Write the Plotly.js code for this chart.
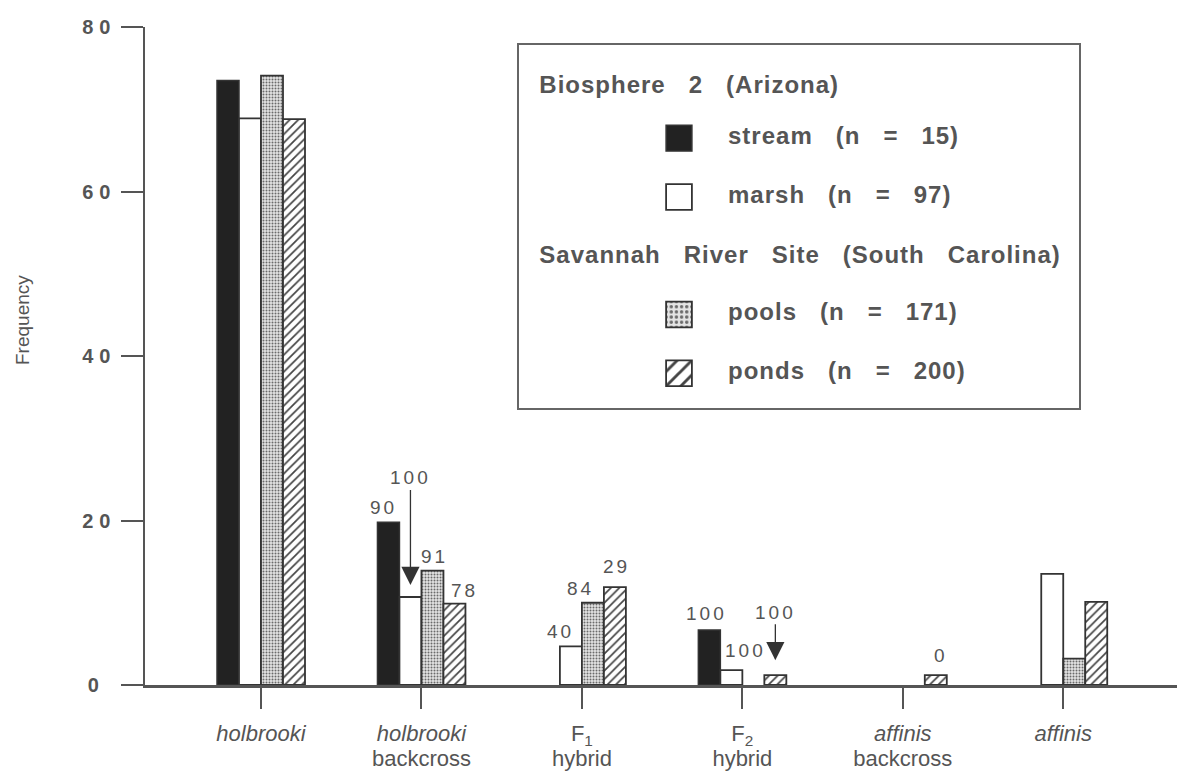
<!DOCTYPE html>
<html>
<head>
<meta charset="utf-8">
<script src="https://cdn.plot.ly/plotly-3.0.1.min.js"></script>
<style>html,body{margin:0;padding:0;background:#fff;}</style>
</head>
<body>
<div id="chart" style="width:1177px;height:774px;"></div>
<script>
// ---- data ----
const categories = ["holbrooki", "holbrooki backcross", "F1 hybrid", "F2 hybrid", "affinis backcross", "affinis"];
const categoryLabels = ["<i>holbrooki</i>", "<i>holbrooki</i><br>backcross", "F<sub>1</sub><br>hybrid", "F<sub>2</sub><br>hybrid", "<i>affinis</i><br>backcross", "<i>affinis</i>"];
const streamValues = [73.5, 19.8, null, 6.7, null, null];
const marshValues  = [68.9, 10.7, 4.7, 1.8, null, 13.5];
const poolsValues  = [74.1, 13.9, 10.0, null, null, 3.2];
const pondsValues  = [68.8, 9.9, 11.9, 1.2, 1.2, 10.1];
const streamLabels = ["", "90", "", "100", "", ""];
const marshLabels  = ["", "100", "40", "100", "", ""];
const poolsLabels  = ["", "91", "84", "", "", ""];
const pondsLabels  = ["", "78", "29", "100", "0", ""];
const marshArrows  = [false, true, false, false, false, false];
const pondsArrows  = [false, false, false, true, false, false];
const seriesNames = ["stream", "marsh", "pools", "ponds"];
const seriesN = [15, 97, 171, 200];
const groupTitles = ["Biosphere 2 (Arizona)", "Savannah River Site (South Carolina)"];
const yTickVals = [0, 20, 40, 60, 80];
const yTickText = ["0", "20", "40", "60", "80"];
const yTitle = "Frequency";

// ---- styling ----
const INK = "#555";
const OUT = "#333";
const BIG = 'font-size:24px;font-weight:bold;letter-spacing:1px';
const SP = "\u00a0\u00a0\u00a0";
function wide(t) { return t.split(" ").join(SP); }
function legendName(t, extra) {
  return "\u00a0<br><span style=\"" + BIG + (extra || "") + "\">" + wide(t) + "</span><br>\u00a0";
}
function entryName(i) {
  return legendName(seriesNames[i] + " (n = " + seriesN[i] + ")");
}
function titleName(i) {
  return legendName("\u00a0\u00a0" + groupTitles[i] + (i === 1 ? "\u00a0" : ""),
    i === 0 ? ";baseline-shift:-8px" : ";baseline-shift:-2px");
}
// category labels: slightly larger glyphs on a tighter line pitch, as in the original
function catLabel(t) {
  return t.split("<br>").map(l => '<span style="font-size:22px">' + l + '</span>').join("<br>");
}

const common = {type: "bar", x: categories, hoverinfo: "skip"};
const traces = [
  Object.assign({}, common, {
    name: entryName(0), y: streamValues, legendgroup: "b2",
    legendgrouptitle: {text: titleName(0)},
    marker: {color: "#222", line: {color: OUT, width: 1.5}}
  }),
  Object.assign({}, common, {
    name: entryName(1), y: marshValues, legendgroup: "b2",
    marker: {color: "#fff", line: {color: OUT, width: 1.8}}
  }),
  Object.assign({}, common, {
    name: entryName(2), y: poolsValues, legendgroup: "srs",
    legendgrouptitle: {text: titleName(1)},
    marker: {color: "#d9d9d9", line: {color: OUT, width: 1.8},
      pattern: {shape: ".", fgcolor: "#6a6a6a", bgcolor: "#e4e4e4", size: 3, solidity: 0.35}}
  }),
  Object.assign({}, common, {
    name: entryName(3), y: pondsValues, legendgroup: "srs",
    marker: {color: "#fff", line: {color: OUT, width: 1.8},
      pattern: {shape: "/", fgcolor: "#444", bgcolor: "#fff", size: 6, solidity: 0.28}}
  })
];

// value labels
const BAR_PX = 22;
const seriesOffsets = [-1.5 * BAR_PX, -0.5 * BAR_PX, 0.5 * BAR_PX, 1.5 * BAR_PX];
const labelSets = [streamLabels, marshLabels, poolsLabels, pondsLabels];
const valueSets = [streamValues, marshValues, poolsValues, pondsValues];
const arrowSets = [null, marshArrows, null, pondsArrows];
// hand-placed nudges (px) to avoid overlaps, as in the original figure
const nudge = {"0-1": [-5, 2], "0-3": [-3, 4], "1-2": [-10, 2], "1-3": [14, 7],
               "2-1": [2, 2], "2-2": [-12, 2], "3-1": [10, 1], "3-2": [2, 8], "3-4": [5, 7]};
const arrowLen = {"1-1": 119, "3-3": 63};
const annotations = [];
for (let s = 0; s < 4; s++) {
  for (let c = 0; c < categories.length; c++) {
    const t = labelSets[s][c];
    if (!t) continue;
    const key = s + "-" + c;
    const txt = '<span style="letter-spacing:3px">' + t + '</span>';
    const font = {family: "Liberation Sans, Arial, sans-serif", size: 19, color: INK};
    if (arrowSets[s] && arrowSets[s][c]) {
      annotations.push({x: categories[c], y: valueSets[s][c], xref: "x", yref: "y",
        xshift: seriesOffsets[s], text: txt, font: font, showarrow: true,
        ax: 0, ay: -arrowLen[key], arrowhead: 2, arrowsize: 2.8, arrowwidth: 1.3,
        arrowcolor: OUT, standoff: key === "1-1" ? 12 : 15});
    } else {
      const n = nudge[key] || [0, 2];
      annotations.push({x: categories[c], y: valueSets[s][c], xref: "x", yref: "y",
        xshift: seriesOffsets[s] + n[0], yshift: n[1], yanchor: "bottom",
        text: txt, font: font, showarrow: false});
    }
  }
}
// y-axis title, placed as in the original (slightly above the axis middle)
annotations.push({xref: "paper", yref: "paper", x: (22 - 145) / 1032, y: 1 - (320 - 27) / 658,
  xanchor: "center", yanchor: "middle", textangle: -90, showarrow: false,
  text: yTitle, font: {family: "Liberation Sans, Arial, sans-serif", size: 19, color: INK}});

const layout = {
  width: 1177, height: 774,
  paper_bgcolor: "#fff", plot_bgcolor: "#fff",
  margin: {l: 145, r: 0, t: 27, b: 89},
  font: {family: "Liberation Sans, Arial, sans-serif", color: INK},
  barmode: "group", bargap: 0.4516, bargroupgap: 0,
  xaxis: {
    type: "category", range: [-0.723, 5.709],
    tickvals: categories, ticktext: categoryLabels.map(catLabel), tickangle: 0,
    showline: true, linewidth: 2.5, linecolor: INK,
    ticks: "outside", ticklen: 21, tickwidth: 2, tickcolor: INK, ticklabelstandoff: 9,
    tickfont: {size: 19.5, color: INK}, showgrid: false, zeroline: false, fixedrange: true
  },
  yaxis: {
    range: [0, 80], tickvals: yTickVals,
    ticktext: yTickText.map(t => '<span style="letter-spacing:6px">' + t + (t.length === 1 ? "\u00a0" : "") + '</span>'),
    showline: true, linewidth: 2.5, linecolor: INK,
    ticks: "outside", ticklen: 22, tickwidth: 2, tickcolor: INK,
    tickfont: {size: 20, color: INK, weight: "bold"},
    showgrid: false, zeroline: false, fixedrange: true
  },
  showlegend: true,
  legend: {
    xref: "paper", yref: "paper", x: (517 - 145) / 1032, y: 1 - (43 - 27) / 658,
    xanchor: "left", yanchor: "top",
    bgcolor: "#fff", bordercolor: "#666", borderwidth: 2,
    font: {size: 14.3, color: INK}, grouptitlefont: {size: 14.3, color: INK},
    itemwidth: 88, indentation: 111, tracegroupgap: 0, valign: "middle",
    itemclick: false, itemdoubleclick: false
  },
  annotations: annotations
};

Plotly.newPlot("chart", traces, layout, {displayModeBar: false, staticPlot: true}).then(function (gd) {
  // enlarge the legend swatches to match the original key
  gd.querySelectorAll("g.legendpoints path").forEach(function (p) {
    const tr = p.getAttribute("transform") || "";
    p.setAttribute("transform", tr + " scale(2.15)");
    p.style.vectorEffect = "non-scaling-stroke";
  });
});
</script>
</body>
</html>
